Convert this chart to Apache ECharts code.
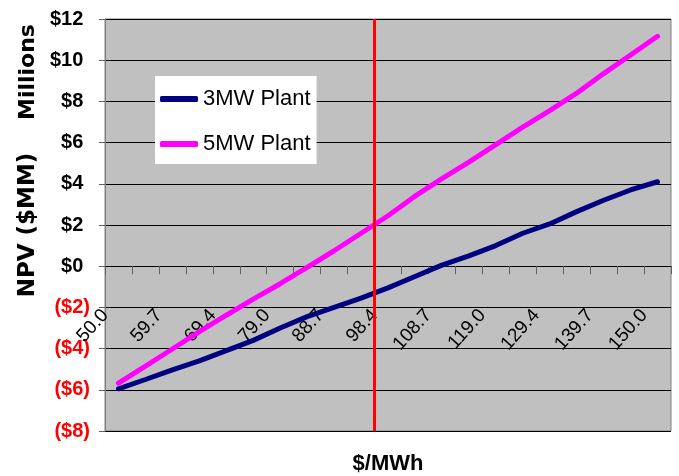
<!DOCTYPE html>
<html>
<head>
<meta charset="utf-8">
<script src="https://cdn.jsdelivr.net/npm/echarts@6/dist/echarts.min.js"></script>
<style>
  html, body { margin: 0; padding: 0; background: #fff; }
  #chart { width: 679px; height: 476px; }
</style>
</head>
<body>
<div id="chart"></div>
<script>
// Electricity price scenarios ($/MWh)
const prices = ['50.0', '54.8', '59.7', '64.5', '69.4', '74.2', '79.0', '83.9', '88.7', '93.5',
                '98.4', '103.5', '108.7', '113.9', '119.0', '124.2', '129.4', '134.5', '139.7', '144.8', '150.0'];

// NPV in $ millions for each plant size
const npv3MW = [-5.95, -5.5, -5.03, -4.6, -4.1, -3.6, -3.0, -2.45, -2.0, -1.55,
                -1.05, -0.5, 0.05, 0.5, 1.0, 1.6, 2.05, 2.65, 3.2, 3.7, 4.1];
const npv5MW = [-5.68, -4.85, -4.02, -3.18, -2.38, -1.6, -0.85, -0.06, 0.75, 1.6,
                2.45, 3.4, 4.25, 5.05, 5.9, 6.75, 7.55, 8.4, 9.35, 10.25, 11.16];

// Y axis range and step ($ millions)
const yMin = -8, yMax = 12, yStep = 2;

// Reference price marker, as a band boundary on the price axis
const markerBoundary = 10;

const W = 679, H = 476;
const gridTop = 19, gridBottom = 45;
const plotHeight = H - gridTop - gridBottom;
// the price axis sits on the $0 line
const zeroOffset = -((0 - yMin) / (yMax - yMin)) * plotHeight;

const arial = "'Liberation Sans', Arial, sans-serif";
const wide = "'DejaVu Sans', sans-serif";

const chart = echarts.init(document.getElementById('chart'));

chart.setOption({
  animation: false,
  backgroundColor: '#ffffff',
  grid: {
    left: 105, right: 8, top: gridTop, bottom: gridBottom,
    containLabel: false,
    outerBoundsMode: 'none',
    show: true,
    backgroundColor: '#C0C0C0',
    borderColor: '#808080',
    borderWidth: 1
  },
  legend: {
    orient: 'vertical',
    left: 155, top: 76,
    backgroundColor: '#ffffff',
    padding: [12, 6, 9, 5],
    itemGap: 23,
    itemWidth: 38,
    itemHeight: 6,
    icon: 'roundRect',
    textStyle: { fontFamily: arial, fontSize: 22, color: '#000' },
    data: ['3MW Plant', '5MW Plant']
  },
  xAxis: [{
    type: 'category',
    data: prices,
    boundaryGap: true,
    offset: zeroOffset,
    name: '$/MWh',
    nameLocation: 'middle',
    nameGap: 187,
    nameTextStyle: { fontFamily: arial, fontSize: 22, fontWeight: 'bold', color: '#000', verticalAlign: 'top' },
    axisLine: { onZero: false, lineStyle: { color: '#000', width: 1 } },
    axisTick: { show: true, interval: 0, length: 8, lineStyle: { color: '#606060' } },
    axisLabel: {
      interval: 1,
      rotate: 48,
      margin: 31,
      fontFamily: arial,
      fontSize: 19,
      color: '#000',
      padding: [0, 20, 0, 0]
    },
    splitLine: { show: false }
  }, {
    type: 'value',
    min: 0, max: prices.length,
    show: false
  }],
  yAxis: {
    type: 'value',
    min: yMin, max: yMax, interval: yStep,
    name: 'NPV ($MM)',
    nameLocation: 'middle',
    nameGap: 61,
    nameTextStyle: { fontFamily: wide, fontSize: 23, fontWeight: 'bold', color: '#000' },
    axisLine: { show: true, lineStyle: { color: '#808080', width: 1 } },
    axisTick: { show: true, length: 6, lineStyle: { color: '#606060' } },
    axisLabel: {
      margin: 15,
      formatter: v => v < 0 ? '{n|($' + (-v) + ')}' : '{p|$' + v + '}{pad|)}',
      rich: {
        n: { color: '#FF0000', fontFamily: arial, fontSize: 20, fontWeight: 'bold' },
        p: { color: '#000000', fontFamily: arial, fontSize: 20, fontWeight: 'bold' },
        pad: { color: 'rgba(0,0,0,0)', fontFamily: arial, fontSize: 20, fontWeight: 'bold' }
      }
    },
    splitLine: { show: true, lineStyle: { color: '#000', width: 1 } }
  },
  graphic: [{
    type: 'text',
    x: 28, y: 72,
    rotation: Math.PI / 2,
    style: {
      text: 'Millions',
      font: 'bold 22px ' + wide,
      fill: '#000',
      align: 'center',
      verticalAlign: 'middle'
    }
  }],
  series: [{
    name: '3MW Plant',
    type: 'line',
    data: npv3MW,
    symbol: 'none',
    color: '#000080',
    lineStyle: { width: 5, color: '#000080', cap: 'round' },
    z: 3
  }, {
    name: '5MW Plant',
    type: 'line',
    data: npv5MW,
    symbol: 'none',
    color: '#FF00FF',
    lineStyle: { width: 5, color: '#FF00FF', cap: 'round' },
    z: 3
  }, {
    name: 'marker',
    type: 'line',
    xAxisIndex: 1,
    data: [[markerBoundary, yMin], [markerBoundary, yMax]],
    symbol: 'none',
    silent: true,
    color: '#FF0000',
    lineStyle: { color: '#FF0000', width: 3, opacity: 1 },
    emphasis: { disabled: true },
    z: 4
  }]
});
</script>
</body>
</html>
